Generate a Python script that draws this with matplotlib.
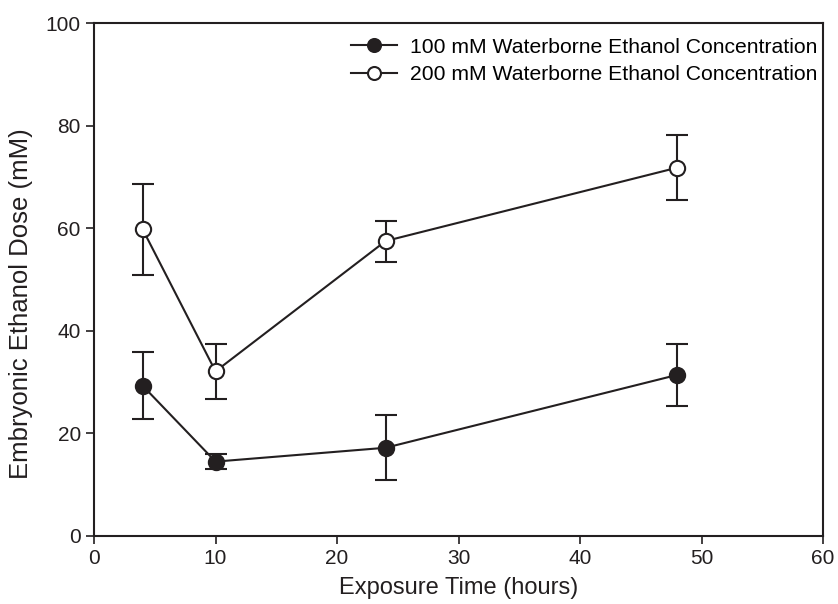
import matplotlib
matplotlib.use("Agg")
import matplotlib.pyplot as plt

plt.rcParams["font.family"] = ["Liberation Sans", "DejaVu Sans"]

hours     = [4, 10, 24, 48]
dose_100  = [29.3, 14.5, 17.2, 31.4]
err_100   = [6.5, 1.5, 6.3, 6.0]
dose_200  = [59.8, 32.1, 57.5, 71.8]
err_200   = [8.9, 5.3, 4.0, 6.3]
labels    = ["100 mM Waterborne Ethanol Concentration",
             "200 mM Waterborne Ethanol Concentration"]

fig = plt.figure(figsize=(8.38, 6.04), dpi=100)
ax  = fig.add_axes([0.1122, 0.1126, 0.8699, 0.8493])

ink = "#231f20"
common = dict(color=ink, lw=1.5, ms=11, mew=1.5, capsize=8, capthick=1.5, elinewidth=1.5)
ax.errorbar(hours, dose_100, yerr=err_100, fmt="-o", mfc=ink, mec=ink, label=labels[0], **common)
ax.errorbar(hours, dose_200, yerr=err_200, fmt="-o", mfc="white", mec=ink, label=labels[1], **common)

ax.set_xlim(0, 60)
ax.set_ylim(0, 100)
ax.set_xticks(range(0, 61, 10))
ax.set_yticks(range(0, 101, 20))
ax.tick_params(direction="out", length=6, width=1.2, labelsize=15, colors=ink)
for s in ax.spines.values():
    s.set_linewidth(1.5)
    s.set_color(ink)

ax.set_xlabel("Exposure Time (hours)", fontsize=17, color=ink, labelpad=6)
ax.set_ylabel("Embryonic Ethanol Dose (mM)", fontsize=18.5, color=ink)
ax.yaxis.set_label_coords(-0.084, 0.452)

handles, labs = ax.get_legend_handles_labels()
handles = [h[0] for h in handles]
ax.legend(handles, labs, loc="upper right", bbox_to_anchor=(1.0035, 0.988),
          frameon=False, fontsize=15.2, handlelength=2.2, markerscale=0.85,
          borderaxespad=0, labelspacing=0.42, handletextpad=0.6)

fig.savefig("out.png", dpi=100)
